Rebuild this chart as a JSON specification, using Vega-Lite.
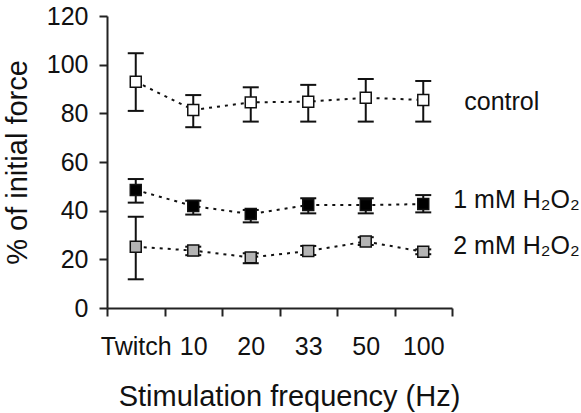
{
  "$schema": "https://vega.github.io/schema/vega-lite/v6.json",
  "width": 345,
  "height": 292,
  "autosize": {"type": "none"},
  "padding": {"left": 107, "top": 16, "right": 129, "bottom": 105},
  "background": "white",
  "config": {
    "view": {"stroke": null},
    "font": "Liberation Sans",
    "axis": {
      "domainColor": "#222222",
      "domainWidth": 2,
      "tickColor": "#222222",
      "tickWidth": 2,
      "tickSize": 8,
      "labelFont": "Liberation Sans",
      "labelFontSize": 25,
      "labelColor": "#111111",
      "titleFont": "Liberation Sans",
      "titleFontSize": 29,
      "titleFontWeight": "normal",
      "titleColor": "#111111",
      "grid": false
    }
  },
  "datasets": {
    "pts": [
      {"freq": "Twitch", "group": "control", "mean": 93.0, "lo": 81.0, "hi": 104.7},
      {"freq": "10", "group": "control", "mean": 81.4, "lo": 74.3, "hi": 87.5},
      {"freq": "20", "group": "control", "mean": 84.5, "lo": 76.6, "hi": 90.7},
      {"freq": "33", "group": "control", "mean": 84.8, "lo": 76.6, "hi": 91.7},
      {"freq": "50", "group": "control", "mean": 86.4, "lo": 76.6, "hi": 94.1},
      {"freq": "100", "group": "control", "mean": 85.5, "lo": 76.6, "hi": 93.3},
      {"freq": "Twitch", "group": "1mM", "mean": 48.5, "lo": 43.3, "hi": 53.0},
      {"freq": "10", "group": "1mM", "mean": 41.9, "lo": 38.4, "hi": 44.1},
      {"freq": "20", "group": "1mM", "mean": 38.6, "lo": 35.2, "hi": 40.3},
      {"freq": "33", "group": "1mM", "mean": 42.3, "lo": 38.9, "hi": 45.1},
      {"freq": "50", "group": "1mM", "mean": 42.3, "lo": 38.9, "hi": 45.1},
      {"freq": "100", "group": "1mM", "mean": 42.7, "lo": 39.3, "hi": 46.4},
      {"freq": "Twitch", "group": "2mM", "mean": 25.2, "lo": 11.8, "hi": 37.5},
      {"freq": "10", "group": "2mM", "mean": 23.6, "lo": 21.7, "hi": 25.2},
      {"freq": "20", "group": "2mM", "mean": 20.8, "lo": 18.4, "hi": 22.5},
      {"freq": "33", "group": "2mM", "mean": 23.4, "lo": 21.8, "hi": 25.5},
      {"freq": "50", "group": "2mM", "mean": 27.3, "lo": 25.9, "hi": 29.1},
      {"freq": "100", "group": "2mM", "mean": 23.1, "lo": 22.1, "hi": 24.1}
    ],
    "labels": [
      {"freq": "100", "kind": "control", "text": "control", "y": 81.4},
      {"freq": "100", "kind": "h2o2", "text": "1 mM H₂O₂", "y": 41.2},
      {"freq": "100", "kind": "h2o2", "text": "2 mM H₂O₂", "y": 22.0}
    ]
  },
  "layer": [
    {
      "data": {"name": "pts"},
      "mark": {"type": "line", "color": "#111111", "strokeWidth": 2, "strokeDash": [3, 5]},
      "encoding": {
        "x": {
          "field": "freq", "type": "nominal",
          "sort": ["Twitch", "10", "20", "33", "50", "100"],
          "scale": {"domain": ["Twitch", "10", "20", "33", "50", "100"], "paddingInner": 0, "paddingOuter": 0},
          "axis": {"title": "Stimulation frequency (Hz)", "labelAngle": 0, "tickBand": "extent", "labelPadding": 18, "titlePadding": 23, "titleX": 182}
        },
        "y": {
          "field": "mean", "type": "quantitative",
          "scale": {"domain": [0, 120], "nice": false},
          "axis": {"title": "% of initial force", "values": [0, 20, 40, 60, 80, 100, 120], "labelPadding": 11, "titlePadding": 14}
        },
        "detail": {"field": "group"}
      }
    },
    {
      "data": {"name": "pts"},
      "mark": {"type": "rule", "color": "#111111", "strokeWidth": 2},
      "encoding": {
        "x": {"field": "freq", "type": "nominal", "sort": ["Twitch", "10", "20", "33", "50", "100"]},
        "y": {"field": "lo", "type": "quantitative"},
        "y2": {"field": "hi"}
      }
    },
    {
      "data": {"name": "pts"},
      "mark": {"type": "tick", "color": "#111111", "size": 16, "thickness": 2, "opacity": 1},
      "encoding": {
        "x": {"field": "freq", "type": "nominal", "sort": ["Twitch", "10", "20", "33", "50", "100"]},
        "y": {"field": "lo", "type": "quantitative"}
      }
    },
    {
      "data": {"name": "pts"},
      "mark": {"type": "tick", "color": "#111111", "size": 16, "thickness": 2, "opacity": 1},
      "encoding": {
        "x": {"field": "freq", "type": "nominal", "sort": ["Twitch", "10", "20", "33", "50", "100"]},
        "y": {"field": "hi", "type": "quantitative"}
      }
    },
    {
      "data": {"name": "pts"},
      "mark": {"type": "point", "shape": "square", "size": 120, "filled": true, "stroke": "#111111", "strokeWidth": 1.5, "opacity": 1},
      "encoding": {
        "x": {"field": "freq", "type": "nominal", "sort": ["Twitch", "10", "20", "33", "50", "100"]},
        "y": {"field": "mean", "type": "quantitative"},
        "fill": {
          "field": "group", "type": "nominal",
          "scale": {"domain": ["control", "1mM", "2mM"], "range": ["#ffffff", "#000000", "#b4b4b4"]},
          "legend": null
        }
      }
    },
    {
      "data": {"name": "labels"},
      "transform": [{"filter": "datum.kind === 'control'"}],
      "mark": {"type": "text", "align": "left", "baseline": "alphabetic", "dx": 41, "fontSize": 25, "color": "#111111", "font": "Liberation Sans"},
      "encoding": {
        "x": {"field": "freq", "type": "nominal", "sort": ["Twitch", "10", "20", "33", "50", "100"]},
        "y": {"field": "y", "type": "quantitative"},
        "text": {"field": "text"}
      }
    },
    {
      "data": {"name": "labels"},
      "transform": [{"filter": "datum.kind === 'h2o2'"}],
      "mark": {"type": "text", "align": "left", "baseline": "alphabetic", "dx": 30, "fontSize": 25, "color": "#111111", "font": "Liberation Sans"},
      "encoding": {
        "x": {"field": "freq", "type": "nominal", "sort": ["Twitch", "10", "20", "33", "50", "100"]},
        "y": {"field": "y", "type": "quantitative"},
        "text": {"field": "text"}
      }
    }
  ]
}
